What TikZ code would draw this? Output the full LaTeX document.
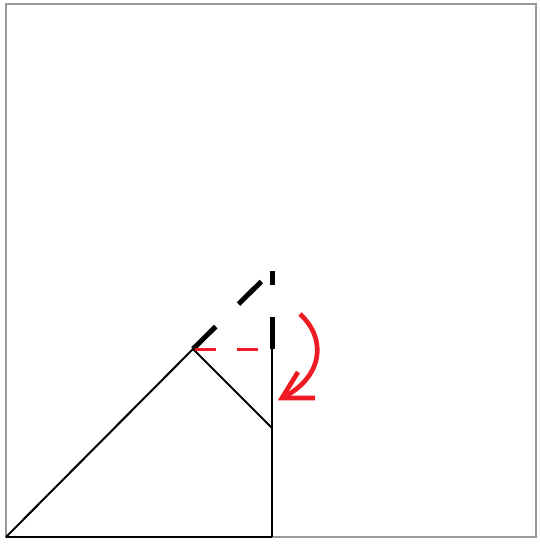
\documentclass[tikz,border=0pt]{standalone}
\begin{document}
\begin{tikzpicture}[x=0.75pt,y=-0.75pt,
  frame/.style={draw=black!40,line width=1.6pt},
  thinline/.style={draw=black,line width=1.5pt},
  thickdash/.style={draw=black,line width=3.75pt,dash pattern=on 24pt off 24pt},
  reddash/.style={draw=redc,line width=2.25pt,dash pattern=on 15.75pt off 15.75pt},
  redarrow/.style={draw=redc,line width=3.5pt}]
\definecolor{redc}{HTML}{ED1C24}
\useasboundingbox (0,0) rectangle (540,544);
\draw[frame] (6,4) rectangle (536,537);
\coordinate (A) at (6,537);
\coordinate (B) at (272,537);
\coordinate (C) at (272,349);
\coordinate (D) at (193,349);
\coordinate (E) at (272,428);
\coordinate (T) at (272,271);
\draw[thinline] (A) -- (D);
\draw[thinline] (B) -- (C);
\draw[thinline] (D) -- (E);
\draw[draw=black,line width=2pt] (A) -- (B);
\draw[thickdash] (D) -- (T);
\draw[thickdash] (C) -- (T);
\coordinate (R1) at (258,349);
\coordinate (R2) at (195,349);
\draw[reddash] (R1) -- (R2);
\coordinate (S) at (300,314);
\coordinate (P) at (282,398);
\coordinate (H1) at (298,372);
\coordinate (H2) at (315,398);
\draw[redarrow] (S) .. controls (328,340) and (322,378) .. (P);
\draw[redarrow,miter limit=10] (H1) -- (P) -- (H2);
\end{tikzpicture}
\end{document}
